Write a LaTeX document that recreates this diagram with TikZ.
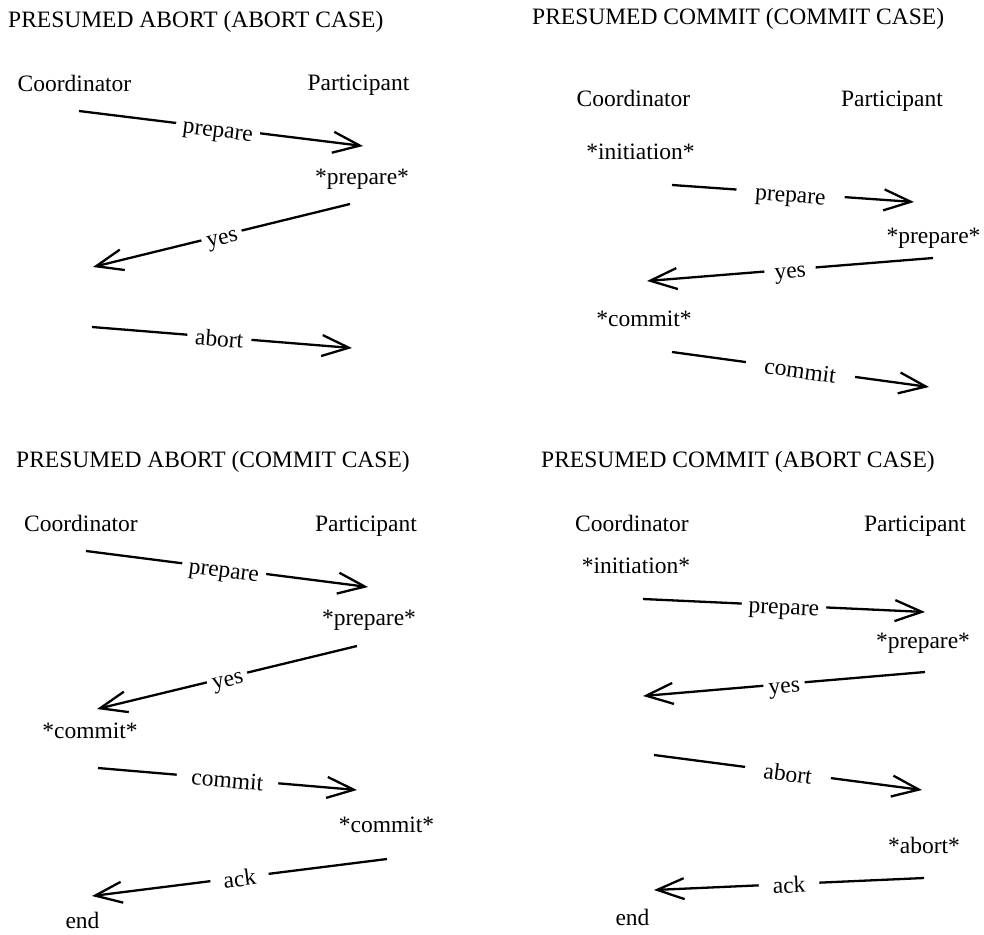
\documentclass[tikz,border=0pt]{standalone}
\usepackage{fontspec}
\setmainfont{Liberation Serif}
\usetikzlibrary{arrows.meta}

\tikzset{
  txt/.style={inner sep=0pt, anchor=base, font=\fontsize{23.5}{28}\selectfont},
  ttl/.style={inner sep=0pt, anchor=base west, font=\fontsize{23.5}{28}\selectfont},
  msg/.style={line width=2.3pt, -{Straight Barb[length=27pt,width=21pt]}},
  lbl/.style={sloped, fill=white, inner ysep=3pt, anchor=base, yshift=-9pt,
              font=\fontsize{23.5}{28}\selectfont},
}

\begin{document}
\begin{tikzpicture}[x=1pt,y=-1pt]
\useasboundingbox (0,0) rectangle (984,934);

% ---------- Presumed abort, abort case ----------
\node[ttl] (t1) at (8,28) {PRESUMED ABORT (ABORT CASE)};
\node[txt] (c1) at (74.5,91) {Coordinator};
\node[txt] (q1) at (358.5,90) {Participant};
\node[txt] (q1prep) at (362,184) {*prepare*};
\coordinate (a1s) at (79,111);  \coordinate (a1e) at (363,146);
\coordinate (a2s) at (350,204); \coordinate (a2e) at (93,267);
\coordinate (a3s) at (92,327);  \coordinate (a3e) at (352,348);
\draw[msg] (a1s) -- node[lbl, pos=0.49, inner xsep=7pt] {prepare} (a1e);
\draw[msg] (a2s) -- node[lbl, pos=0.5, inner xsep=5pt] {yes} (a2e);
\draw[msg] (a3s) -- node[lbl, pos=0.49, inner xsep=8pt] {abort} (a3e);

% ---------- Presumed commit, commit case ----------
\node[ttl] (t2) at (532,25) {PRESUMED COMMIT (COMMIT CASE)};
\node[txt] (c2) at (633.5,106) {Coordinator};
\node[txt] (q2) at (892,106) {Participant};
\node[txt] (c2init) at (640.5,159) {*initiation*};
\node[txt] (q2prep) at (933.5,243) {*prepare*};
\node[txt] (c2comm) at (644,326) {*commit*};
\coordinate (b1s) at (672,185); \coordinate (b1e) at (914,202);
\coordinate (b2s) at (933,258); \coordinate (b2e) at (647,281);
\coordinate (b3s) at (672,352); \coordinate (b3e) at (929,387);
\draw[msg] (b1s) -- node[lbl, pos=0.49, inner xsep=19pt] {prepare} (b1e);
\draw[msg] (b2s) -- node[lbl, pos=0.5, inner xsep=10pt] {yes} (b2e);
\draw[msg] (b3s) -- node[lbl, pos=0.5, inner xsep=19pt] {commit} (b3e);

% ---------- Presumed abort, commit case ----------
\node[ttl] (t3) at (16,467) {PRESUMED ABORT (COMMIT CASE)};
\node[txt] (c3) at (81,531) {Coordinator};
\node[txt] (q3) at (366,531) {Participant};
\node[txt] (q3prep) at (369,625) {*prepare*};
\node[txt] (c3comm) at (90,738) {*commit*};
\node[txt] (q3comm) at (386.5,832) {*commit*};
\node[txt] (c3end) at (82.5,928) {end};
\coordinate (e1s) at (86,551);  \coordinate (e1e) at (368,587);
\coordinate (e2s) at (357,646); \coordinate (e2e) at (97,709);
\coordinate (e3s) at (98,768);  \coordinate (e3e) at (357,790);
\coordinate (e4s) at (387,859); \coordinate (e4e) at (92,896);
\draw[msg] (e1s) -- node[lbl, pos=0.49, inner xsep=7pt] {prepare} (e1e);
\draw[msg] (e2s) -- node[lbl, pos=0.5, inner xsep=5pt] {yes} (e2e);
\draw[msg] (e3s) -- node[lbl, pos=0.5, inner xsep=15pt] {commit} (e3e);
\draw[msg] (e4s) -- node[lbl, pos=0.5, inner xsep=13pt] {ack} (e4e);

% ---------- Presumed commit, abort case ----------
\node[ttl] (t4) at (541,467) {PRESUMED COMMIT (ABORT CASE)};
\node[txt] (c4) at (632,531) {Coordinator};
\node[txt] (q4) at (915,531) {Participant};
\node[txt] (c4init) at (636,573) {*initiation*};
\node[txt] (q4prep) at (923,648) {*prepare*};
\node[txt] (q4abort) at (924,853) {*abort*};
\node[txt] (c4end) at (632.5,925) {end};
\coordinate (d1s) at (643,599); \coordinate (d1e) at (925,612);
\coordinate (d2s) at (925,672); \coordinate (d2e) at (643,696);
\coordinate (d3s) at (654,755); \coordinate (d3e) at (922,790);
\coordinate (d4s) at (924,878); \coordinate (d4e) at (654,890);
\draw[msg] (d1s) -- node[lbl, pos=0.5, inner xsep=7pt] {prepare} (d1e);
\draw[msg] (d2s) -- node[lbl, pos=0.5, inner xsep=5pt] {yes} (d2e);
\draw[msg] (d3s) -- node[lbl, pos=0.5, inner xsep=19pt] {abort} (d3e);
\draw[msg] (d4s) -- node[lbl, pos=0.5, inner xsep=14pt] {ack} (d4e);
\end{tikzpicture}
\end{document}
